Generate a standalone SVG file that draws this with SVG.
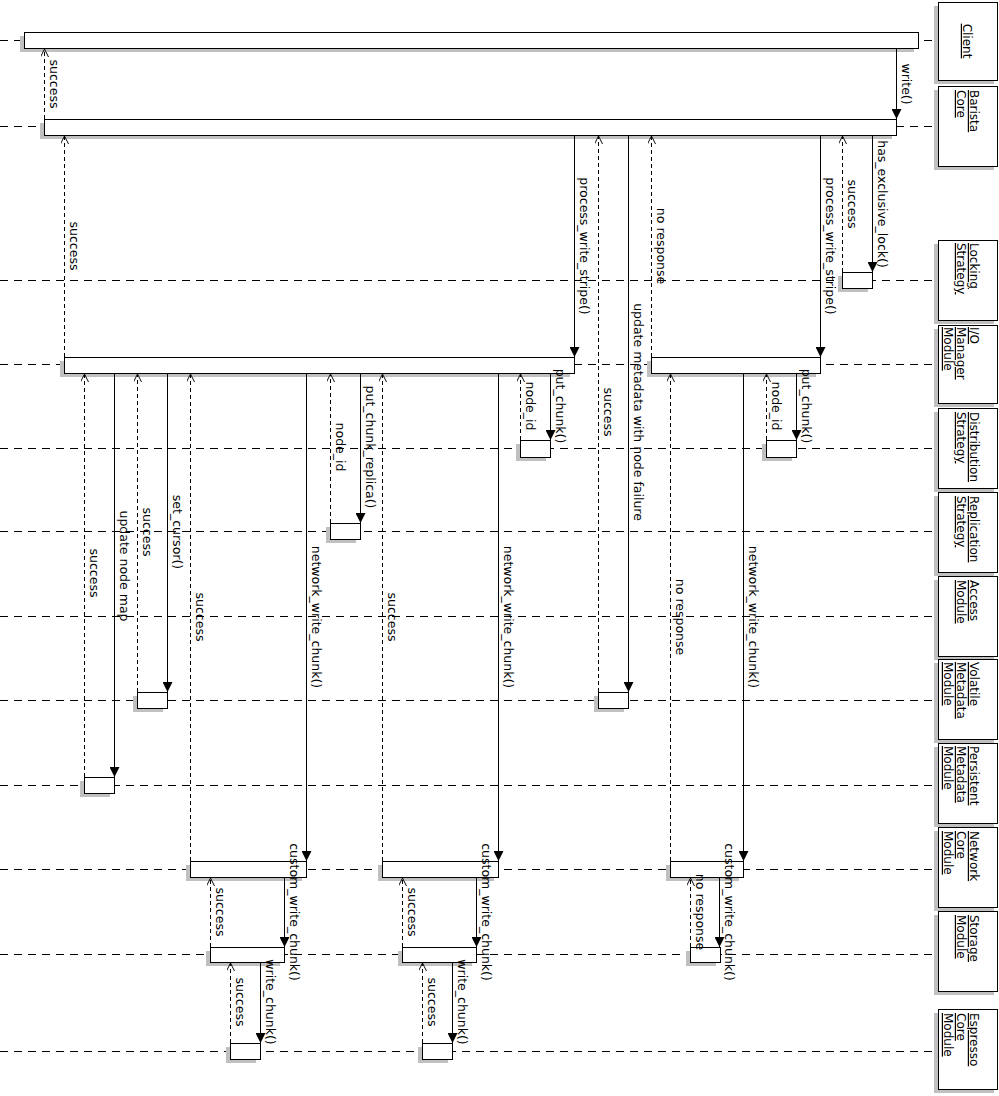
<svg xmlns="http://www.w3.org/2000/svg" width="999" height="1096" viewBox="0 0 999 1096">
<style>
.bg{fill:#fff}
.box{fill:#fff;stroke:#000;stroke-width:1}
.sh{fill:#c0c0c0}
.life{stroke:#000;stroke-width:1;stroke-dasharray:8,6;fill:none}
.call{stroke:#000;stroke-width:1;fill:none;marker-end:url(#fa)}
.ret{stroke:#000;stroke-width:1;fill:none;stroke-dasharray:4,3;marker-end:url(#oa)}
text{font-family:"DejaVu Sans","Liberation Sans",sans-serif;font-size:12.5px;fill:#000}
.ml{text-anchor:middle}
.ol{text-decoration:underline;font-size:12px}
</style>
<defs>
<marker id="fa" viewBox="0 0 10 10" refX="10" refY="5" markerWidth="10" markerHeight="10" markerUnits="userSpaceOnUse" orient="auto"><path d="M0,0 L10,5 L0,10 z" fill="#000" stroke="none"/></marker>
<marker id="oa" viewBox="0 0 10 10" refX="10" refY="5" markerWidth="8" markerHeight="8" markerUnits="userSpaceOnUse" orient="auto"><path d="M0,0 L10,5 L0,10" fill="none" stroke="#000" stroke-width="1.2" stroke-dasharray="none"/></marker>
</defs>
<rect class="bg" x="0" y="0" width="999" height="1096"/>

<g id="client">
<line class="life" x1="0" y1="40.5" x2="938" y2="40.5"/>
<rect class="sh" x="934" y="6" width="60" height="78"/>
<rect class="box" x="938.5" y="2.5" width="59" height="78"/>
<text class="ol ml" transform="translate(963,41) rotate(90)">Client</text>
<rect class="sh" x="20" y="36" width="894" height="16"/>
<rect class="box" x="24.5" y="32.5" width="894" height="16"/>
</g>

<g id="barista">
<line class="life" x1="0" y1="126.5" x2="938" y2="126.5"/>
<rect class="sh" x="934" y="90" width="60" height="80"/>
<rect class="box" x="938.5" y="86.5" width="59" height="80"/>
<text class="ol" transform="translate(970,90) rotate(90)"><tspan x="0" y="0">Barista</tspan><tspan x="0" y="13">Core</tspan></text>
<rect class="sh" x="40" y="123" width="852" height="16"/>
<rect class="box" x="44.5" y="119.5" width="852" height="16"/>
</g>

<g id="locking">
<line class="life" x1="0" y1="280.5" x2="938" y2="280.5"/>
<rect class="sh" x="934" y="244" width="60" height="80"/>
<rect class="box" x="938.5" y="240.5" width="59" height="80"/>
<text class="ol" transform="translate(970,243) rotate(90)"><tspan x="0" y="0">Locking</tspan><tspan x="0" y="13">Strategy</tspan></text>
<rect class="sh" x="838" y="276" width="30" height="16"/>
<rect class="box" x="842.5" y="272.5" width="30" height="16"/>
</g>

<g id="iomanager">
<line class="life" x1="0" y1="364.5" x2="938" y2="364.5"/>
<rect class="sh" x="934" y="329" width="60" height="78"/>
<rect class="box" x="938.5" y="325.5" width="59" height="78"/>
<text class="ol" transform="translate(970,327) rotate(90)"><tspan x="0" y="0">I/O</tspan><tspan x="0" y="13">Manager</tspan><tspan x="0" y="26">Module</tspan></text>
<rect class="sh" x="60" y="361" width="510" height="16"/>
<rect class="box" x="64.5" y="357.5" width="510" height="16"/>
<rect class="sh" x="647" y="361" width="169" height="16"/>
<rect class="box" x="651.5" y="357.5" width="169" height="16"/>
</g>

<g id="distribution">
<line class="life" x1="0" y1="448.5" x2="938" y2="448.5"/>
<rect class="sh" x="934" y="412" width="60" height="80"/>
<rect class="box" x="938.5" y="408.5" width="59" height="80"/>
<text class="ol" transform="translate(970,412) rotate(90)"><tspan x="0" y="0">Distribution</tspan><tspan x="0" y="13">Strategy</tspan></text>
<rect class="sh" x="516" y="444" width="30" height="17"/>
<rect class="box" x="520.5" y="440.5" width="30" height="17"/>
<rect class="sh" x="762" y="444" width="30" height="17"/>
<rect class="box" x="766.5" y="440.5" width="30" height="17"/>
</g>

<g id="replication">
<line class="life" x1="0" y1="531.5" x2="938" y2="531.5"/>
<rect class="sh" x="934" y="496" width="60" height="80"/>
<rect class="box" x="938.5" y="492.5" width="59" height="80"/>
<text class="ol" transform="translate(970,496) rotate(90)"><tspan x="0" y="0">Replication</tspan><tspan x="0" y="13">Strategy</tspan></text>
<rect class="sh" x="326" y="527" width="30" height="16"/>
<rect class="box" x="330.5" y="523.5" width="30" height="16"/>
</g>

<g id="access">
<line class="life" x1="0" y1="616.5" x2="938" y2="616.5"/>
<rect class="sh" x="934" y="580" width="60" height="80"/>
<rect class="box" x="938.5" y="576.5" width="59" height="80"/>
<text class="ol" transform="translate(970,580) rotate(90)"><tspan x="0" y="0">Access</tspan><tspan x="0" y="13">Module</tspan></text>
</g>

<g id="volatile">
<line class="life" x1="0" y1="700.5" x2="938" y2="700.5"/>
<rect class="sh" x="934" y="663" width="60" height="80"/>
<rect class="box" x="938.5" y="659.5" width="59" height="80"/>
<text class="ol" transform="translate(970,662) rotate(90)"><tspan x="0" y="0">Volatile</tspan><tspan x="0" y="13">Metadata</tspan><tspan x="0" y="26">Module</tspan></text>
<rect class="sh" x="133" y="696" width="30" height="16"/>
<rect class="box" x="137.5" y="692.5" width="30" height="16"/>
<rect class="sh" x="594" y="696" width="30" height="16"/>
<rect class="box" x="598.5" y="692.5" width="30" height="16"/>
</g>

<g id="persistent">
<line class="life" x1="0" y1="785.5" x2="938" y2="785.5"/>
<rect class="sh" x="934" y="747" width="60" height="80"/>
<rect class="box" x="938.5" y="743.5" width="59" height="80"/>
<text class="ol" transform="translate(970,746) rotate(90)"><tspan x="0" y="0">Persistent</tspan><tspan x="0" y="13">Metadata</tspan><tspan x="0" y="26">Module</tspan></text>
<rect class="sh" x="80" y="781" width="30" height="16"/>
<rect class="box" x="84.5" y="777.5" width="30" height="16"/>
</g>

<g id="network">
<line class="life" x1="0" y1="869.5" x2="938" y2="869.5"/>
<rect class="sh" x="934" y="831" width="60" height="80"/>
<rect class="box" x="938.5" y="827.5" width="59" height="80"/>
<text class="ol" transform="translate(970,831) rotate(90)"><tspan x="0" y="0">Network</tspan><tspan x="0" y="13">Core</tspan><tspan x="0" y="26">Module</tspan></text>
<rect class="sh" x="186" y="865" width="116" height="16"/>
<rect class="box" x="190.5" y="861.5" width="116" height="16"/>
<rect class="sh" x="378" y="865" width="116" height="16"/>
<rect class="box" x="382.5" y="861.5" width="116" height="16"/>
<rect class="sh" x="666" y="865" width="73" height="16"/>
<rect class="box" x="670.5" y="861.5" width="73" height="16"/>
</g>

<g id="storage">
<line class="life" x1="0" y1="954.5" x2="938" y2="954.5"/>
<rect class="sh" x="934" y="915" width="60" height="80"/>
<rect class="box" x="938.5" y="911.5" width="59" height="80"/>
<text class="ol" transform="translate(970,915) rotate(90)"><tspan x="0" y="0">Storage</tspan><tspan x="0" y="13">Module</tspan></text>
<rect class="sh" x="206" y="951" width="74" height="15"/>
<rect class="box" x="210.5" y="947.5" width="74" height="15"/>
<rect class="sh" x="398" y="951" width="74" height="15"/>
<rect class="box" x="402.5" y="947.5" width="74" height="15"/>
<rect class="sh" x="686" y="951" width="30" height="15"/>
<rect class="box" x="690.5" y="947.5" width="30" height="15"/>
</g>

<g id="espresso">
<line class="life" x1="0" y1="1051.5" x2="938" y2="1051.5"/>
<rect class="sh" x="934" y="1013" width="60" height="80"/>
<rect class="box" x="938.5" y="1009.5" width="59" height="80"/>
<text class="ol" transform="translate(970,1013) rotate(90)"><tspan x="0" y="0">Espresso</tspan><tspan x="0" y="13">Core</tspan><tspan x="0" y="26">Module</tspan></text>
<rect class="sh" x="226" y="1047" width="30" height="16"/>
<rect class="box" x="230.5" y="1043.5" width="30" height="16"/>
<rect class="sh" x="418" y="1047" width="30" height="16"/>
<rect class="box" x="422.5" y="1043.5" width="30" height="16"/>
</g>

<g id="connectors">
<line class="call" x1="896.5" y1="49" x2="896.5" y2="119"/>
<text class="ml" transform="translate(902,84) rotate(90)">write()</text>
<line class="ret" x1="44.5" y1="119" x2="44.5" y2="49"/>
<text class="ml" transform="translate(50,84) rotate(90)">success</text>

<line class="call" x1="872.5" y1="136" x2="872.5" y2="272"/>
<text class="ml" transform="translate(878,204) rotate(90)">has_exclusive_lock()</text>
<line class="ret" x1="842.5" y1="272" x2="842.5" y2="136"/>
<text class="ml" transform="translate(848,204) rotate(90)">success</text>
<line class="call" x1="820.5" y1="136" x2="820.5" y2="357"/>
<text class="ml" transform="translate(826,246) rotate(90)">process_write_stripe()</text>
<line class="ret" x1="651.5" y1="357" x2="651.5" y2="136"/>
<text class="ml" transform="translate(657,246) rotate(90)">no response</text>
<line class="call" x1="628.5" y1="136" x2="628.5" y2="692"/>
<text class="ml" transform="translate(634,412) rotate(90)">update metadata with node failure</text>
<line class="ret" x1="598.5" y1="692" x2="598.5" y2="136"/>
<text class="ml" transform="translate(604,412) rotate(90)">success</text>
<line class="call" x1="574.5" y1="136" x2="574.5" y2="357"/>
<text class="ml" transform="translate(580,246) rotate(90)">process_write_stripe()</text>
<line class="ret" x1="64.5" y1="357" x2="64.5" y2="136"/>
<text class="ml" transform="translate(70,246) rotate(90)">success</text>

<line class="call" x1="114.5" y1="374" x2="114.5" y2="777"/>
<text class="ml" transform="translate(120,566) rotate(90)">update node map</text>
<line class="ret" x1="84.5" y1="777" x2="84.5" y2="374"/>
<text class="ml" transform="translate(90,573) rotate(90)">success</text>
<line class="call" x1="167.5" y1="374" x2="167.5" y2="692"/>
<text class="ml" transform="translate(173,532) rotate(90)">set_cursor()</text>
<line class="ret" x1="137.5" y1="692" x2="137.5" y2="374"/>
<text class="ml" transform="translate(143,532) rotate(90)">success</text>
<line class="ret" x1="190.5" y1="861" x2="190.5" y2="374"/>
<text class="ml" transform="translate(196,617) rotate(90)">success</text>
<line class="call" x1="306.5" y1="374" x2="306.5" y2="861"/>
<text class="ml" transform="translate(312,617) rotate(90)">network_write_chunk()</text>
<line class="ret" x1="330.5" y1="523" x2="330.5" y2="374"/>
<text class="ml" transform="translate(336,447) rotate(90)">node_id</text>
<line class="call" x1="360.5" y1="374" x2="360.5" y2="523"/>
<text class="ml" transform="translate(366,447) rotate(90)">put_chunk_replica()</text>
<line class="ret" x1="382.5" y1="861" x2="382.5" y2="374"/>
<text class="ml" transform="translate(388,617) rotate(90)">success</text>
<line class="call" x1="498.5" y1="374" x2="498.5" y2="861"/>
<text class="ml" transform="translate(504,617) rotate(90)">network_write_chunk()</text>
<line class="ret" x1="520.5" y1="440" x2="520.5" y2="374"/>
<text class="ml" transform="translate(526,406) rotate(90)">node_id</text>
<line class="call" x1="550.5" y1="374" x2="550.5" y2="440"/>
<text class="ml" transform="translate(556,406) rotate(90)">put_chunk()</text>

<line class="ret" x1="670.5" y1="861" x2="670.5" y2="374"/>
<text class="ml" transform="translate(676,617) rotate(90)">no response</text>
<line class="call" x1="743.5" y1="374" x2="743.5" y2="861"/>
<text class="ml" transform="translate(749,617) rotate(90)">network_write_chunk()</text>
<line class="ret" x1="766.5" y1="440" x2="766.5" y2="374"/>
<text class="ml" transform="translate(772,406) rotate(90)">node_id</text>
<line class="call" x1="796.5" y1="374" x2="796.5" y2="440"/>
<text class="ml" transform="translate(802,406) rotate(90)">put_chunk()</text>

<line class="call" x1="284.5" y1="878" x2="284.5" y2="947"/>
<text class="ml" transform="translate(290,912) rotate(90)">custom_write_chunk()</text>
<line class="ret" x1="210.5" y1="947" x2="210.5" y2="878"/>
<text class="ml" transform="translate(216,912) rotate(90)">success</text>
<line class="call" x1="260.5" y1="963" x2="260.5" y2="1043"/>
<text class="ml" transform="translate(266,1002) rotate(90)">write_chunk()</text>
<line class="ret" x1="230.5" y1="1043" x2="230.5" y2="963"/>
<text class="ml" transform="translate(236,1002) rotate(90)">success</text>

<line class="call" x1="476.5" y1="878" x2="476.5" y2="947"/>
<text class="ml" transform="translate(482,912) rotate(90)">custom_write_chunk()</text>
<line class="ret" x1="402.5" y1="947" x2="402.5" y2="878"/>
<text class="ml" transform="translate(408,912) rotate(90)">success</text>
<line class="call" x1="452.5" y1="963" x2="452.5" y2="1043"/>
<text class="ml" transform="translate(458,1002) rotate(90)">write_chunk()</text>
<line class="ret" x1="422.5" y1="1043" x2="422.5" y2="963"/>
<text class="ml" transform="translate(428,1002) rotate(90)">success</text>

<line class="call" x1="719.5" y1="878" x2="719.5" y2="947"/>
<text class="ml" transform="translate(725,912) rotate(90)">custom_write_chunk()</text>
<line class="ret" x1="690.5" y1="947" x2="690.5" y2="878"/>
<text class="ml" transform="translate(696,912) rotate(90)">no response</text>
</g>
</svg>
